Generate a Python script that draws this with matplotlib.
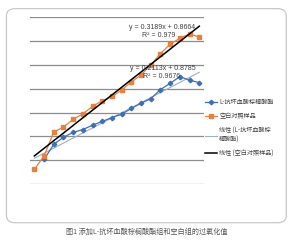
import numpy as np
import matplotlib
matplotlib.use("Agg")
import matplotlib.pyplot as plt
from matplotlib.patches import FancyBboxPatch
from matplotlib.lines import Line2D

plt.rcParams['font.family'] = ['Noto Sans CJK SC', 'DejaVu Sans']

# ---- data ----
x = np.arange(1, 19)
ascorbyl = [np.nan, 1.04, 1.67, 1.97, 2.17, 2.29, 2.47, 2.63, 2.79, 2.93,
            3.17, 3.39, 3.58, 3.96, 4.22, 4.50, 4.35, 4.25]
blank = [0.63, 1.18, 2.19, 2.39, 2.72, 2.94, 3.26, 3.49, 3.67, 3.94,
         4.28, 4.57, 4.99, 5.46, 5.86, 6.10, 6.29, 6.15]
trend_ascorbyl = [0.2113, 0.8785]   # slope, intercept
trend_blank = [0.3189, 0.8664]
r2_ascorbyl = "0.9676"
r2_blank = "0.979"
series_names = ["L-抗坏血酸棕榈酸酯", "空白对照样品",
                "线性 (L-抗坏血酸棕\n榈酸酯)", "线性 (空白对照样品)"]
caption = "图1 添加L-抗坏血酸棕榈酸酯组和空白组的过氧化值"

blue = "#3F6FB3"
orange = "#E8803F"
trend_gray = "#9AAFC9"

fig = plt.figure(figsize=(2.93, 2.40), dpi=100)

# rounded frame
frame = FancyBboxPatch((0.022, 0.072), 0.955, 0.892,
                       boxstyle="round,pad=0,rounding_size=0.03",
                       transform=fig.transFigure, facecolor="white",
                       edgecolor="#C8C8C8", linewidth=0.9, zorder=-5)
fig.patches.append(frame)

ax = fig.add_axes([0.1007, 0.232, 0.596, 0.698])
ax.set_zorder(2)
ax.set_facecolor("none")
ax.set_xlim(0.5, 18.5)
ax.set_ylim(0, 7)
for sp in ax.spines.values():
    sp.set_visible(False)
ax.set_xticks([])
ax.set_yticks(np.arange(0, 8))
ax.tick_params(left=False, labelleft=False)
ax.grid(axis='y', color="#8C8C8C", linewidth=0.9)
ax.set_axisbelow(True)

xt = np.array([1, 18])
ax.plot(xt, trend_ascorbyl[0] * xt + trend_ascorbyl[1], color=trend_gray,
        linewidth=0.8, zorder=2)
ax.plot(x, ascorbyl, color=blue, marker="D", markersize=2.3, linewidth=0.9,
        zorder=3)
ax.plot(x, blank, color=orange, marker="s", markersize=3.4, linewidth=0.9,
        zorder=3)
ax.plot(xt, trend_blank[0] * xt + trend_blank[1], color="black",
        linewidth=1.1, zorder=4)

tc = "#404040"
fs = 5.0
efam = "Liberation Sans"
ax.text(14.2, 6.55, f"y = {trend_blank[0]}x + {trend_blank[1]}", fontsize=fs,
        color=tc, ha="center", va="center", family=efam, zorder=5)
ax.text(15.5, 6.22, f"R² = {r2_blank}", fontsize=fs, color=tc,
        ha="right", va="center", family=efam, zorder=5)
ax.text(14.2, 4.85, f"y = {trend_ascorbyl[0]}x + {trend_ascorbyl[1]}",
        fontsize=fs, color=tc, ha="center", va="center", family=efam,
        zorder=5)
ax.text(16.0, 4.51, f"R² = {r2_ascorbyl}", fontsize=fs, color=tc,
        ha="right", va="center", family=efam, zorder=5)

handles = [
    Line2D([], [], color=blue, marker="D", markersize=2.3, linewidth=0.9),
    Line2D([], [], color=orange, marker="s", markersize=3.4, linewidth=0.9),
    Line2D([], [], color=trend_gray, linewidth=0.8),
    Line2D([], [], color="black", linewidth=1.1),
]
fig.legend(handles, series_names, loc="upper left",
           bbox_to_anchor=(0.685, 0.61), frameon=False, fontsize=4.4,
           handlelength=2.0, handletextpad=0.3, labelspacing=1.0,
           labelcolor="#404040", borderpad=0.2)

fig.text(0.5, 0.035, caption, ha="center", va="center", fontsize=5.1,
         color="#555555")

fig.savefig("out.png", dpi=100)
